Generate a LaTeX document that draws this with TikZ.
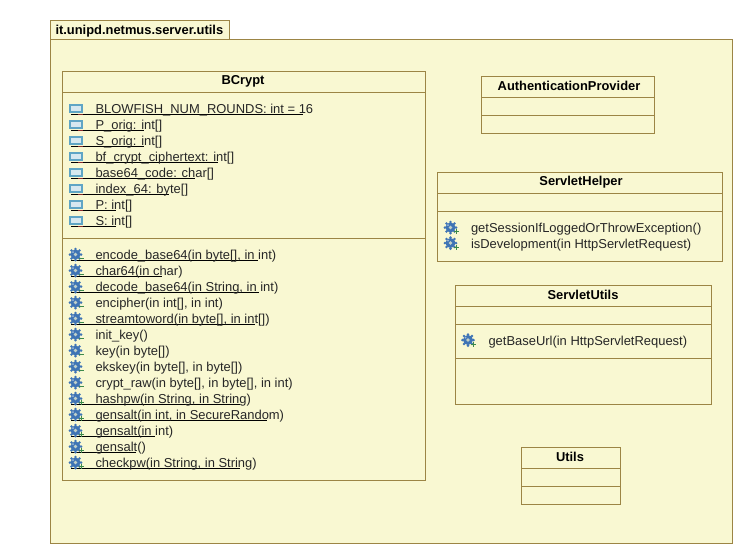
\documentclass[tikz,border=0pt]{standalone}
\usepackage{fontspec}
\setmainfont{Liberation Sans}
\usetikzlibrary{positioning}
\definecolor{umlline}{HTML}{9C8545}
\definecolor{umlfill}{HTML}{F9F8D2}
\definecolor{iconblue}{HTML}{5FA5C5}
\definecolor{gearblue}{HTML}{3F74B5}
\definecolor{privred}{HTML}{8A2A2A}
\definecolor{pubgreen}{HTML}{3C8A4A}

\begin{document}
\begin{tikzpicture}[
		x=1pt,
		y=-1pt,
		line width=1pt
		]
		\tikzstyle{box}=[
			rectangle,
			draw=umlline,
			fill=umlfill,
			anchor=north west,
			xshift=0.5 pt,
			yshift=-0.5 pt,
			inner sep=0 pt,
			outer sep=0 pt
		]
		\tikzstyle{title}=[
			font=\fontsize{12.9}{15}\selectfont\bfseries,
			text=black,
			inner sep=0 pt
		]
		\tikzstyle{row}=[
			font=\fontsize{12.95}{15}\selectfont,
			text=black!85,
			anchor=base west,
			inner sep=0 pt
		]
		\tikzset{
			attr icon/.pic={
				\draw[iconblue, fill=iconblue!25, line width=1.2pt] (-6,-3) rectangle (6,4);
				\draw[privred, line width=1.2pt] (2,6.5) -- (7,6.5);
			},
			gear icon/.pic={
				\fill[gearblue] (0,0) circle (5);
				\foreach \a in {0, 45, ..., 315}
					\fill[gearblue] (\a:5.6) circle (1.4);
				\fill[umlfill!70!gearblue] (0,0) circle (1.8);
				\fill[white, opacity=0.5] (-2.5,-2.5) circle (1);
			},
			private mark/.pic={
				\draw[pubgreen, line width=0.8pt] (3,4) -- (8,4);
			},
			public mark/.pic={
				\draw[pubgreen, line width=0.8pt] (3,4) -- (8,4) (5.5,1.5) -- (5.5,6.5);
			}
		}
		\useasboundingbox (0,0) rectangle (738,550);
		\fill[white] (0,0) rectangle (738,550);
		% Package with its tab.
			\node[box, minimum width=682 pt, minimum height=504 pt] (pkg) at (50,39) {};
			\node[box, minimum width=179 pt, minimum height=19 pt] (pkgtab) at (50,20) {};
			\node[title, anchor=base west] (pkgname) at (55,34) {it.unipd.netmus.server.utils};
		% Draw the class boxes.
			\node[box, minimum width=363 pt, minimum height=409 pt] (bcrypt) at (62,71) {};
			\node[box, minimum width=173 pt, minimum height=57 pt] (auth) at (481,76) {};
			\node[box, minimum width=285 pt, minimum height=89 pt] (helper) at (437,172) {};
			\node[box, minimum width=256 pt, minimum height=119 pt] (servutils) at (455,285) {};
			\node[box, minimum width=99 pt, minimum height=57 pt] (utils) at (521,447) {};
		% Class names.
			\node[title] (bcryptname) at (243,81.5) {BCrypt};
			\node[title] (authname) at (569,85.5) {AuthenticationProvider};
			\node[title] (helpername) at (581,182.5) {ServletHelper};
			\node[title] (servutilsname) at (583,294.5) {ServletUtils};
			\node[title] (utilsname) at (570,456.5) {Utils};
		% Compartment lines.
			\foreach \name / \a in {bcrypt/92, bcrypt/238, auth/97, auth/115, helper/193, helper/211,
				servutils/306, servutils/324, servutils/358, utils/468, utils/486}
				\draw[umlline] (\name.west |- 0,\a+0.5) -- (\name.east |- 0,\a+0.5);
		% Attributes of BCrypt.
			\foreach \y / \label / \stop in {
				108/{BLOWFISH\_NUM\_ROUNDS: int = 16}/303,
				124/{P\_orig: int[]}/144,
				140/{S\_orig: int[]}/144,
				156/{bf\_crypt\_ciphertext: int[]}/218,
				172/{base64\_code: char[]}/195,
				188/{index\_64: byte[]}/169,
				204/{P: int[]}/116,
				220/{S: int[]}/116}
			{
				\draw[black] (71,\y+6.5) -- (\stop,\y+6.5);
				\pic at (76,\y) {attr icon};
				\node[row] at (95,\y+5) {\label};
			}
		% Methods of BCrypt.
			\foreach \y / \label / \stop / \mark in {
				255/{encode\_base64(in byte[], in int)}/258/private,
				271/{char64(in char)}/162/private,
				287/{decode\_base64(in String, in int)}/259/private,
				303/{encipher(in int[], in int)}/71/private,
				319/{streamtoword(in byte[], in int[])}/255/private,
				335/{init\_key()}/71/private,
				351/{key(in byte[])}/71/private,
				367/{ekskey(in byte[], in byte[])}/71/private,
				383/{crypt\_raw(in byte[], in byte[], in int)}/71/private,
				399/{hashpw(in String, in String)}/240/public,
				415/{gensalt(in int, in SecureRandom)}/267/public,
				431/{gensalt(in int)}/155/public,
				447/{gensalt()}/136/public,
				463/{checkpw(in String, in String)}/240/public}
			{
				\draw[black] (71,\y+5.5) -- (\stop,\y+5.5);
				\pic at (75.5,\y-0.5) {gear icon};
				\pic at (75.5,\y-0.5) {\mark\space mark};
				\node[row] at (95,\y+4) {\label};
			}
		% Methods of the other classes.
			\foreach \x / \y / \label in {
				450.5/227.5/{getSessionIfLoggedOrThrowException()},
				450.5/243/{isDevelopment(in HttpServletRequest)},
				468/340/{getBaseUrl(in HttpServletRequest)}}
			{
				\pic at (\x,\y) {gear icon};
				\pic at (\x,\y) {public mark};
				\node[row] at (\x+20,\y+5) {\label};
			}
	\end{tikzpicture}
\end{document}
